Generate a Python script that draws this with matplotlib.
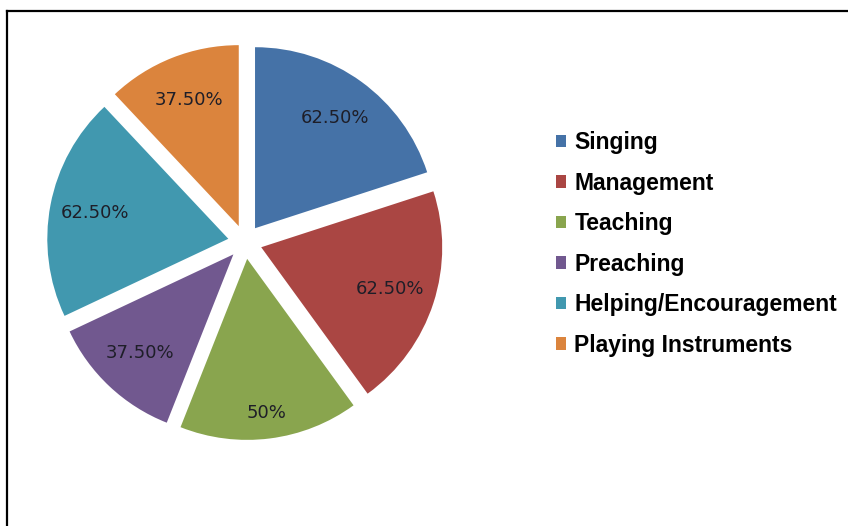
import numpy as np
import matplotlib.pyplot as plt
from matplotlib.lines import Line2D
from matplotlib.patches import Patch

activities = ["Singing", "Management", "Teaching", "Preaching",
              "Helping/Encouragement", "Playing Instruments"]
percents = [62.5, 62.5, 50, 37.5, 62.5, 37.5]
colors = ["#4572A7", "#AA4643", "#89A54E", "#71588F", "#4198AF", "#DB843D"]


def fmt_pct(v):
    # whole numbers print without decimals, the rest with two
    return f"{v:.0f}%" if float(v).is_integer() else f"{v:.2f}%"


def main():
    fig = plt.figure(figsize=(8.48, 5.26), dpi=100)
    ax = fig.add_axes([0.0328, 0.127, 0.5123, 0.8259])

    wedges, texts = ax.pie(percents, colors=colors, startangle=90,
                           counterclock=False, explode=[0.094] * len(percents),
                           radius=1.0)
    for w, v in zip(wedges, percents):
        mid = (w.theta1 + w.theta2) / 2
        ang = np.deg2rad(mid)
        # the bottom slice gets its label pushed further out
        dist = 0.86 if np.sin(ang) < -0.95 else 0.75
        cx, cy = w.center
        ax.text(cx + dist * np.cos(ang), cy + dist * np.sin(ang), fmt_pct(v),
                ha="center", va="center", fontsize=13,
                family="DejaVu Sans", color="#1e1e28")

    ax.set_xlim(-1.2, 1.2)
    ax.set_ylim(-1.2, 1.2)
    ax.set_aspect("equal")
    ax.axis("off")

    handles = [Patch(facecolor=c, edgecolor="none") for c in colors]
    fig.legend(handles, activities, loc="upper left",
               bbox_to_anchor=(0.6555, 0.751), frameon=False,
               prop={"family": "Liberation Sans", "weight": "bold", "size": 16.5},
               handlelength=0.45, handleheight=0.45, handletextpad=0.36,
               labelspacing=0.765, borderpad=0, borderaxespad=0)

    # frame edges along the top and left
    fig.add_artist(Line2D([7 / 848, 1], [1 - 11 / 526] * 2, color="black", lw=1.6))
    fig.add_artist(Line2D([7 / 848] * 2, [0, 1 - 11 / 526], color="black", lw=1.6))

    fig.savefig("out.png", dpi=100)


if __name__ == '__main__':
    main()
